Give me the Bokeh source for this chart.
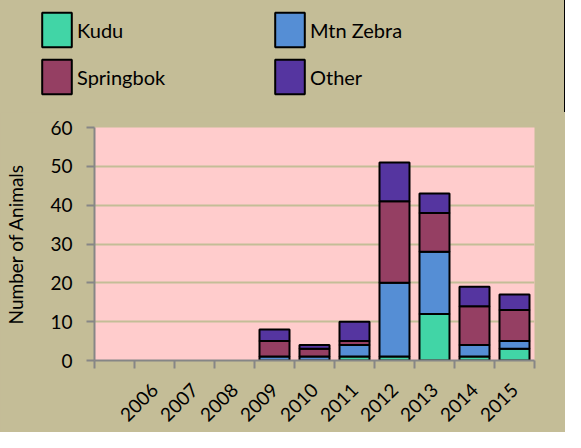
from bokeh.plotting import figure
from bokeh.layouts import column
from bokeh.models import ColumnDataSource, Range1d, FixedTicker, Legend, LegendItem
from bokeh.embed import file_html
from bokeh.resources import INLINE

# ---- data ----
categories = ["", "2006", "2007", "2008", "2009", "2010", "2011", "2012", "2013", "2014", "2015"]
kudu      = [0, 0, 0, 0, 0, 0, 1, 1, 12, 1, 3]
mtn_zebra = [0, 0, 0, 0, 1, 1, 3, 19, 16, 3, 2]
springbok = [0, 0, 0, 0, 4, 2, 1, 21, 10, 10, 8]
other     = [0, 0, 0, 0, 3, 1, 5, 10, 5, 5, 4]
series_names = ["Kudu", "Mtn Zebra", "Springbok", "Other"]
series_keys = ["kudu", "zebra", "springbok", "other"]
colors = ["#41D5A6", "#558ED5", "#953F63", "#5535A0"]
y_ticks = [0, 10, 20, 30, 40, 50, 60]

FONT = "Lato"
TAN = "#C4BD97"
GRAY = "#868686"

n = len(categories)
centers = [i + 0.5 for i in range(n)]
totals = [a + b + c + d for a, b, c, d in zip(kudu, mtn_zebra, springbok, other)]
keep = [i for i in range(n) if totals[i] > 0]

source = ColumnDataSource(dict(
    x=[centers[i] for i in keep],
    kudu=[kudu[i] for i in keep],
    zebra=[mtn_zebra[i] for i in keep],
    springbok=[springbok[i] for i in keep],
    other=[other[i] for i in keep],
))

# ---- legend strip (top) ----
top = figure(width=565, height=112, output_backend="svg", toolbar_location=None,
             x_range=Range1d(-1000, -999), y_range=Range1d(0, 1),
             x_axis_location=None, y_axis_location=None,
             min_border=0, frame_align=False)
top.border_fill_color = TAN
top.background_fill_color = TAN
top.outline_line_color = None
top.grid.visible = False

legend_rs = top.vbar_stack(series_keys, x="x", width=0.75, source=source, color=colors,
                           line_color="black", line_width=2)
by_name = dict(zip(series_names, legend_rs))

legend_order = ["Kudu", "Springbok", "Mtn Zebra", "Other"]  # column-major fill
leg = Legend(items=[LegendItem(label=nm, renderers=[by_name[nm]]) for nm in legend_order])
leg.ncols = 2
leg.location = (38, 14)
leg.padding = 0
leg.margin = 0
leg.spacing = 4
leg.border_line_color = None
leg.background_fill_alpha = 0
leg.glyph_width = 37
leg.glyph_height = 43
leg.label_standoff = 2
leg.label_width = 190
leg.label_height = 43
leg.label_text_font = FONT
leg.label_text_font_size = "20px"
leg.label_text_color = "black"
leg.label_text_baseline = "middle"
top.add_layout(leg)

# ---- main chart ----
p = figure(width=565, height=320, output_backend="svg", toolbar_location=None,
           x_range=Range1d(0, n), y_range=Range1d(0, 60),
           min_border_left=94, min_border_right=31, min_border_top=15, min_border_bottom=72,
           frame_align=False)

p.border_fill_color = TAN
p.background_fill_color = "#FFCCCC"
p.outline_line_color = None

p.vbar_stack(series_keys, x="x", width=0.75, source=source, color=colors,
             line_color="black", line_width=2)

# x axis: labels at centers, tick marks at category boundaries
xa = p.xaxis[0]
xa.ticker = FixedTicker(ticks=centers, minor_ticks=list(range(n + 1)))
xa.major_label_overrides = {c: lab for c, lab in zip(centers, categories)}
xa.major_tick_line_color = None
xa.major_tick_in = 0
xa.major_tick_out = 0
xa.minor_tick_in = 0
xa.minor_tick_out = 8
xa.minor_tick_line_color = GRAY
xa.minor_tick_line_width = 2
xa.axis_line_color = GRAY
xa.axis_line_width = 2
xa.major_label_orientation = 0.785398
xa.major_label_text_font = FONT
xa.major_label_text_font_size = "19px"
xa.major_label_text_color = "black"
xa.major_label_standoff = 18

ya = p.yaxis[0]
ya.ticker = FixedTicker(ticks=y_ticks, minor_ticks=[])
ya.axis_label = "Number of Animals"
ya.axis_label_text_font = FONT
ya.axis_label_text_font_size = "19px"
ya.axis_label_text_font_style = "normal"
ya.axis_label_text_color = "black"
ya.axis_label_standoff = 20
ya.major_label_text_font = FONT
ya.major_label_text_font_size = "19px"
ya.major_label_text_color = "black"
ya.major_label_standoff = 14
ya.major_tick_in = 0
ya.major_tick_out = 8
ya.major_tick_line_color = GRAY
ya.major_tick_line_width = 2
ya.axis_line_color = GRAY
ya.axis_line_width = 2

p.xgrid.grid_line_color = None
p.ygrid.grid_line_color = TAN
p.ygrid.grid_line_width = 2

layout = column(top, p, spacing=0, styles={"background-color": TAN})
open("out.html", "w").write(file_html(layout, INLINE))
